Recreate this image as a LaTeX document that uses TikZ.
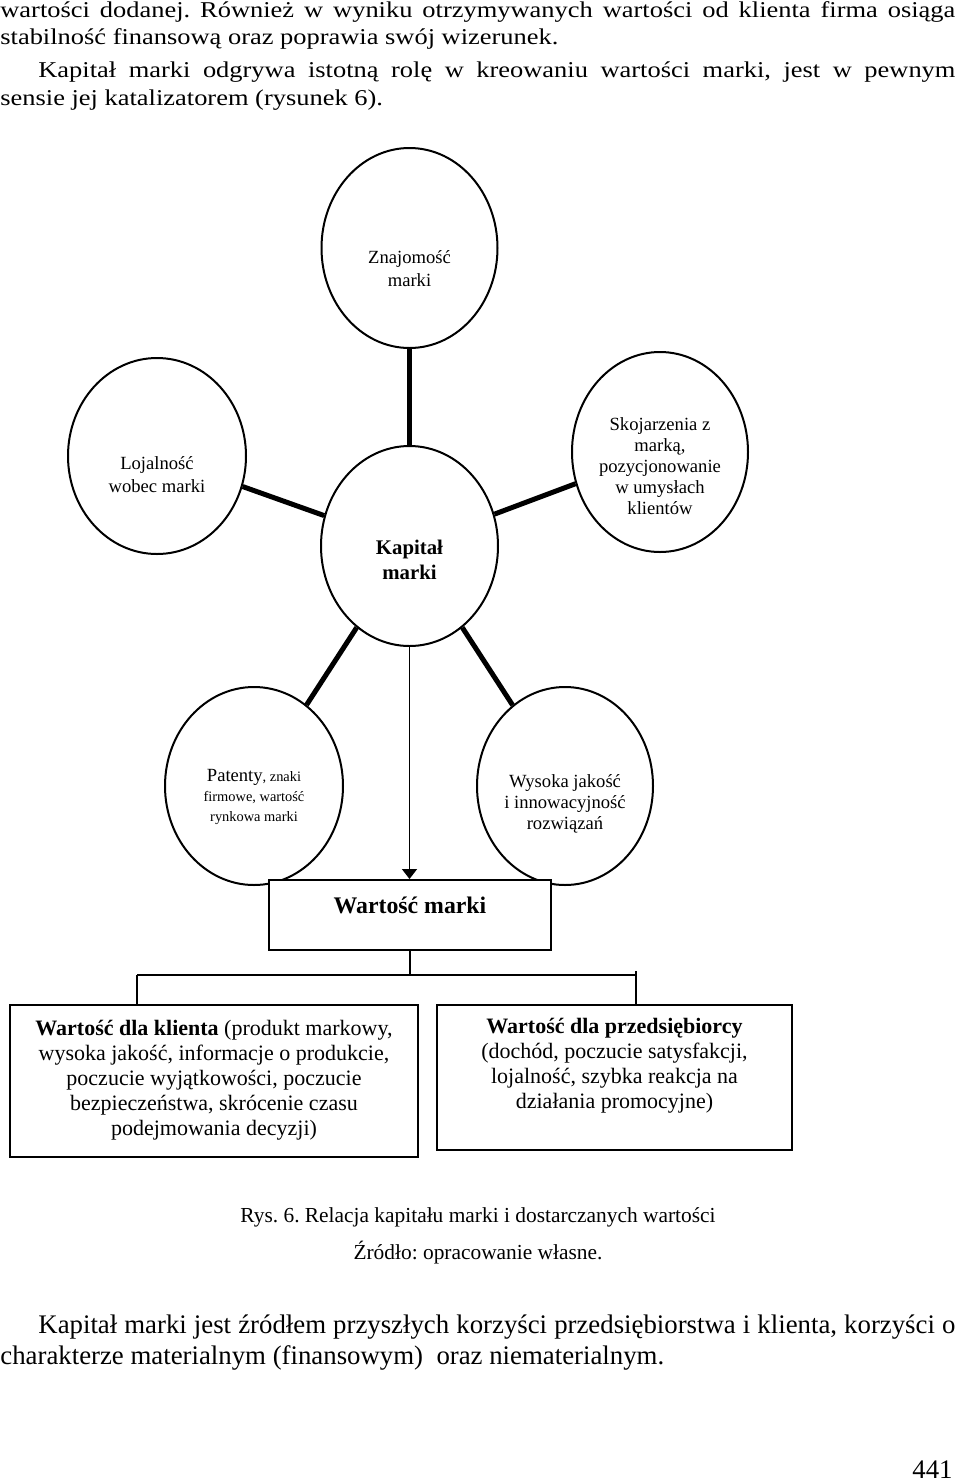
\documentclass[tikz,border=0pt]{standalone}
\usepackage{fontspec}
\setmainfont{Liberation Serif}
\usetikzlibrary{shapes.geometric,arrows.meta}
\frenchspacing
\begin{document}
\begin{tikzpicture}[x=0.5pt,y=-0.5pt,
  oval/.style={ellipse,draw,line width=1pt,fill=white,inner sep=0pt},
  spoke/.style={line width=2.5pt},
  etxt/.style={inner sep=0pt,align=center,font=\fontsize{9.3}{11.3}\selectfont},
  para/.style={inner sep=0pt,font=\fontsize{11.3}{13}\selectfont},
  parb/.style={inner sep=0pt,font=\fontsize{13.4}{15}\selectfont},
  captxt/.style={inner sep=0pt,font=\fontsize{10.7}{12}\selectfont},
  wbox/.style={draw,line width=1pt,fill=white,inner sep=0pt},
  btxt/.style={inner sep=0pt,align=center,font=\fontsize{11}{12.5}\selectfont},
  conn/.style={line width=1pt},
  arrowline/.style={line width=0.8pt,-{Triangle[length=5pt,width=7.5pt]}}
]
\fill[white] (0,0) rectangle (960,1484);
\useasboundingbox (0,0) rectangle (960,1484);

% text above
\node[para,anchor=base west] (p1) at (0,17) {\scalebox{1.17}[1]{\makebox[408.1pt][s]{wartości dodanej. Również w wyniku otrzymywanych wartości od klienta firma osiąga}}};
\node[para,anchor=base west] (p2) at (0,44) {\scalebox{1.17}[1]{stabilność finansową oraz poprawia swój wizerunek.}};
\node[para,anchor=base west] (p3) at (38,77) {\scalebox{1.17}[1]{\makebox[391.9pt][s]{Kapitał marki odgrywa istotną rolę w kreowaniu wartości marki, jest w pewnym}}};
\node[para,anchor=base west] (p4) at (0,105) {\scalebox{1.17}[1]{sensie jej katalizatorem (rysunek 6).}};

% ellipses
\node[oval,minimum width=88pt,minimum height=100pt] (zn) at (409.5,248) {};
\node[oval,minimum width=89pt,minimum height=98pt] (lo) at (157,456) {};
\node[oval,minimum width=88pt,minimum height=100pt] (sk) at (660,452) {};
\node[oval,minimum width=88.5pt,minimum height=100pt] (ka) at (409.5,546) {};
\node[oval,minimum width=89pt,minimum height=99pt] (pa) at (254,786) {};
\node[oval,minimum width=88pt,minimum height=99pt] (wy) at (565,786) {};

\draw[spoke] (zn) -- (ka);
\draw[spoke] (lo) -- (ka);
\draw[spoke] (sk) -- (ka);
\draw[spoke] (pa) -- (ka);
\draw[spoke] (wy) -- (ka);

\node[etxt] (znt) at (409.5,268.5) {Znajomość\\marki};
\node[etxt] (lot) at (157,474.5) {Lojalność\\wobec marki};
\node[etxt,font=\fontsize{9.3}{10.5}\selectfont] (skt) at (660,466) {Skojarzenia z\\marką,\\pozycjonowanie\\w umysłach\\klientów};
\node[etxt,font=\bfseries\fontsize{10.4}{12.5}\selectfont] (kat) at (409.5,559.5) {Kapitał\\marki};
\node[etxt,font=\fontsize{7.2}{9.8}\selectfont] (pat) at (254,797) {{\fontsize{9.3}{9.8}\selectfont Patenty}, znaki\\firmowe, wartość\\rynkowa marki};
\node[etxt,font=\fontsize{9.3}{10.5}\selectfont] (wyt) at (565,804) {Wysoka jakość\\i innowacyjność\\rozwiązań};

% value box
\node[wbox,minimum width=141pt,text height=16.5pt,text depth=18.5pt,font=\bfseries\fontsize{11.9}{14}\selectfont] (wm) at (410,915) {Wartość marki};
\draw[arrowline] (ka.south) -- (ka.south |- wm.north);

% bottom boxes
\node[wbox,line width=1.2pt,minimum width=204pt,minimum height=76pt] (lb) at (214,1081) {};
\node[wbox,line width=1.2pt,minimum width=177.5pt,minimum height=72.5pt] (rb) at (614.5,1077.5) {};
\node[btxt] (lbt) at (214,1080) {\textbf{Wartość dla klienta} (produkt markowy,\\wysoka jakość, informacje o produkcie,\\poczucie wyjątkowości, poczucie\\bezpieczeństwa, skrócenie czasu\\podejmowania decyzji)};
\node[btxt] (rbt) at (614.5,1066) {\textbf{Wartość dla przedsiębiorcy}\\(dochód, poczucie satysfakcji,\\lojalność, szybka reakcja na\\działania promocyjne)};

\coordinate (jl) at (137,975);
\coordinate (jr) at (636,975);
\coordinate (jrt) at (636,971);
\draw[conn] (wm.south) -- (wm.south |- jl);
\draw[conn] (jl) -- (jr);
\draw[conn] (jl) -- (jl |- lb.north);
\draw[conn] (jrt) -- (jr |- rb.north);

% caption
\node[captxt,anchor=base] (c1) at (478,1222) {Rys. 6. Relacja kapitału marki i dostarczanych wartości};
\node[captxt,anchor=base] (c2) at (478,1259) {Źródło: opracowanie własne.};

% text below
\node[parb,anchor=base west] (p5) at (38,1333) {\makebox[458.5pt][s]{Kapitał marki jest źródłem przyszłych korzyści przedsiębiorstwa i klienta, korzyści o}};
\node[parb,anchor=base west] (p6) at (0,1364) {charakterze materialnym (finansowym) \ oraz niematerialnym.};

\node[parb,anchor=base east] (pg) at (953,1478) {441};
\end{tikzpicture}
\end{document}
